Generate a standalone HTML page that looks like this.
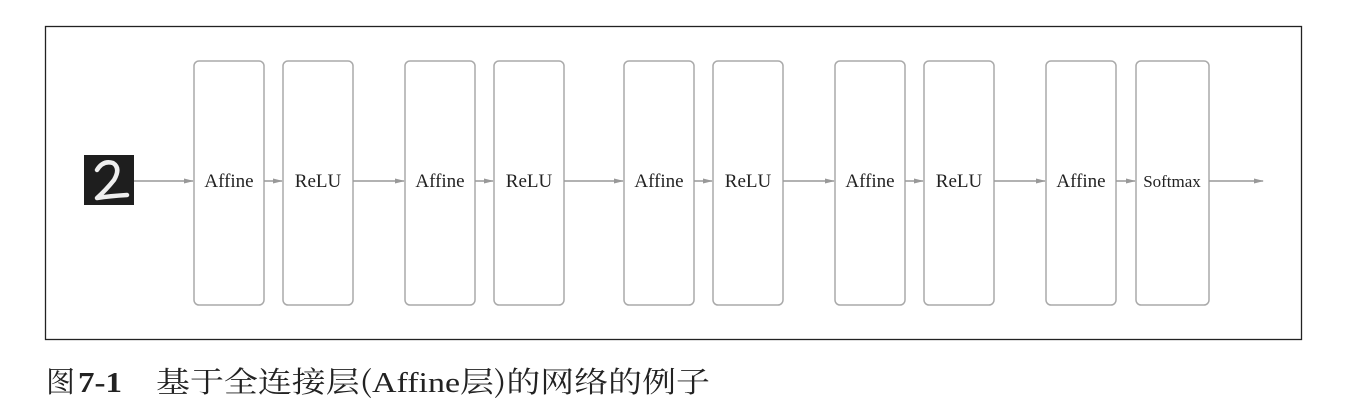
<!DOCTYPE html>
<html><head><meta charset="utf-8"><style>
html,body{margin:0;padding:0;background:#fff;width:1354px;height:413px;overflow:hidden}
svg{display:block}
</style></head><body>
<svg width="1354" height="413" viewBox="0 0 1354 413" xmlns="http://www.w3.org/2000/svg">
<defs><marker id="a" markerWidth="10" markerHeight="6" refX="9" refY="3" orient="auto" markerUnits="userSpaceOnUse"><path d="M0,0.5 L10,3 L0,5.5 z" fill="#999"/></marker></defs>
<rect x="45.5" y="26.5" width="1256" height="313" fill="none" stroke="#222" stroke-width="1.3"/>
<rect x="84" y="155" width="50" height="50" fill="#1e1e1e"/>
<path d="M97,170 Q103,160 113,163 Q121,168 114,180 Q106,190 97,198 Q110,196 127,195" fill="none" stroke="#eee" stroke-width="4.5" stroke-linecap="round" stroke-linejoin="round"/>
<g fill="none" stroke="#aaa" stroke-width="1.5">
<rect x="194" y="61" width="70" height="244" rx="5"/>
<rect x="283" y="61" width="70" height="244" rx="5"/>
<rect x="405" y="61" width="70" height="244" rx="5"/>
<rect x="494" y="61" width="70" height="244" rx="5"/>
<rect x="624" y="61" width="70" height="244" rx="5"/>
<rect x="713" y="61" width="70" height="244" rx="5"/>
<rect x="835" y="61" width="70" height="244" rx="5"/>
<rect x="924" y="61" width="70" height="244" rx="5"/>
<rect x="1046" y="61" width="70" height="244" rx="5"/>
<rect x="1136" y="61" width="73" height="244" rx="5"/>
</g>
<g stroke="#999" stroke-width="1.5" marker-end="url(#a)">
<line x1="134" y1="181" x2="193" y2="181"/>
<line x1="264" y1="181" x2="282" y2="181"/>
<line x1="353" y1="181" x2="404" y2="181"/>
<line x1="475" y1="181" x2="493" y2="181"/>
<line x1="564" y1="181" x2="623" y2="181"/>
<line x1="694" y1="181" x2="712" y2="181"/>
<line x1="783" y1="181" x2="834" y2="181"/>
<line x1="905" y1="181" x2="923" y2="181"/>
<line x1="994" y1="181" x2="1045" y2="181"/>
<line x1="1116" y1="181" x2="1135" y2="181"/>
<line x1="1209" y1="181" x2="1263" y2="181"/>
</g>
<g font-family="Liberation Serif, serif" font-size="19" fill="#222" text-anchor="middle">
<text x="229" y="187">Affine</text>
<text x="318" y="187">ReLU</text>
<text x="440" y="187">Affine</text>
<text x="529" y="187">ReLU</text>
<text x="659" y="187">Affine</text>
<text x="748" y="187">ReLU</text>
<text x="870" y="187">Affine</text>
<text x="959" y="187">ReLU</text>
<text x="1081" y="187">Affine</text>
<text x="1172" y="187" font-size="17">Softmax</text>
</g>
<g fill="#222" font-size="29">
<text x="46" y="392" font-family="'Noto Serif CJK SC', serif">图</text>
<text x="78" y="392" font-family="Liberation Serif, serif" font-weight="bold" textLength="44" lengthAdjust="spacingAndGlyphs">7-1</text>
<text x="156" y="392" font-family="'Noto Serif CJK SC', serif" textLength="554" lengthAdjust="spacingAndGlyphs">基于全连接层(<tspan font-family="Liberation Serif, serif">Affine</tspan>层)的网络的例子</text>
</g>
</svg>
</body></html>
